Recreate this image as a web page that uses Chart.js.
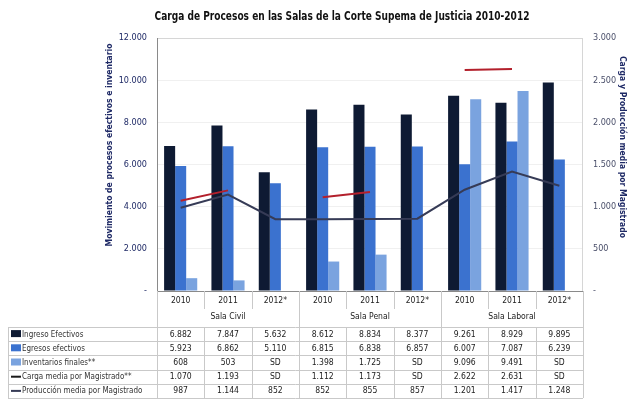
<!DOCTYPE html>
<html>
<head>
<meta charset="utf-8">
<script src="https://cdn.jsdelivr.net/npm/chart.js@4.4.0/dist/chart.umd.min.js"></script>
<style>
  html, body { margin: 0; padding: 0; background: #fff; }
  #wrap { width: 632px; height: 405px; position: relative; }
</style>
</head>
<body>
<div id="wrap"><canvas id="procChart"></canvas></div>
<script>
// data
const years = ['2010', '2011', '2012*', '2010', '2011', '2012*', '2010', '2011', '2012*'];
const salas = ['Sala Civil', 'Sala Penal', 'Sala Laboral'];
const ingresos = [6882, 7847, 5632, 8612, 8834, 8377, 9261, 8929, 9895];
const egresos = [5923, 6862, 5110, 6815, 6838, 6857, 6007, 7087, 6239];
const inventarios = [608, 503, null, 1398, 1725, null, 9096, 9491, null];
const carga = [1070, 1193, null, 1112, 1173, null, 2622, 2631, null];
const produccion = [987, 1144, 852, 852, 855, 857, 1201, 1417, 1248];
const leftTicks = [0, 2000, 4000, 6000, 8000, 10000, 12000];
const rightTicks = [0, 500, 1000, 1500, 2000, 2500, 3000];

const FONT = "'Liberation Sans Narrow', 'DejaVu Sans Condensed', 'Roboto', sans-serif";
const C_ING = '#0e1a33';
const C_EGR = '#3b72cf';
const C_INV = '#7aa3df';
const C_CARGA = '#b3202c';
const C_PROD = '#363b56';

function fmt(v) {
    if (v === null) return 'SD';
    if (v === 0) return '-';
    return String(v).replace(/\B(?=(\d{3})+(?!\d))/g, '.');
}

// draws text squeezed horizontally, the reference uses a narrow face
function narrowText(ctx, text, x, y, squeeze) {
    ctx.save();
    ctx.translate(x, y);
    ctx.scale(squeeze, 1);
    ctx.fillText(text, 0, 0);
    ctx.restore();
}

// table rows under the chart
const tableRows = [
    { label: 'Ingreso Efectivos', data: ingresos, color: C_ING, kind: 'bar' },
    { label: 'Egresos efectivos', data: egresos, color: C_EGR, kind: 'bar' },
    { label: 'Inventarios finales**', data: inventarios, color: C_INV, kind: 'bar' },
    { label: 'Carga media por Magistrado**', data: carga, color: '#1a1a1a', kind: 'line' },
    { label: 'Producción media por Magistrado', data: produccion, color: C_PROD, kind: 'line' }
];

const tablePlugin = {
    id: 'tablePlugin',
    beforeDatasetsDraw(chart) {
        const ctx = chart.ctx;
        const a = chart.chartArea;
        ctx.save();
        // light frame round the plot
        ctx.strokeStyle = '#d6d6d6';
        ctx.lineWidth = 1;
        ctx.beginPath();
        ctx.moveTo(a.left, a.top + 0.5);
        ctx.lineTo(a.right, a.top + 0.5);
        ctx.moveTo(a.right - 0.5, a.top);
        ctx.lineTo(a.right - 0.5, a.bottom);
        ctx.stroke();
        ctx.strokeStyle = '#8a8a8a';
        ctx.beginPath();
        ctx.moveTo(a.left + 0.5, a.top);
        ctx.lineTo(a.left + 0.5, a.bottom);
        ctx.stroke();
        ctx.restore();
    },
    afterDraw(chart) {
        const ctx = chart.ctx;
        const a = chart.chartArea;
        const xs = chart.scales.x;
        const n = years.length;
        const cw = (xs.right - xs.left) / n;
        const x0 = xs.left;
        const labelLeft = 8;
        const yearTop = a.bottom;
        const salaTop = 309;
        const rowTop = 327;
        const rowH = 14.2;
        const bottom = rowTop + rowH * tableRows.length;

        ctx.save();
        // title, squeezed to the reference width
        const title = 'Carga de Procesos en las Salas de la Corte Supema de Justicia 2010-2012';
        ctx.fillStyle = '#111';
        ctx.font = 'bold 12px ' + FONT;
        ctx.textAlign = 'center';
        ctx.textBaseline = 'middle';
        const tw = ctx.measureText(title).width;
        narrowText(ctx, title, 342, 17, Math.min(1, 375 / tw));

        // axis titles
        ctx.fillStyle = '#1f2a66';
        ctx.font = 'bold 9px ' + FONT;
        ctx.save();
        ctx.translate(110, 145);
        ctx.rotate(-Math.PI / 2);
        narrowText(ctx, 'Movimiento de procesos efectivos e inventario', 0, 0, 0.95);
        ctx.restore();
        ctx.save();
        ctx.translate(622, 147);
        ctx.rotate(Math.PI / 2);
        narrowText(ctx, 'Carga y Producción media por Magistrado', 0, 0, 0.95);
        ctx.restore();

        // x axis line
        ctx.strokeStyle = '#8a8a8a';
        ctx.lineWidth = 1;
        ctx.beginPath();
        ctx.moveTo(a.left, a.bottom + 0.5);
        ctx.lineTo(a.right, a.bottom + 0.5);
        ctx.stroke();

        // grid lines of the table
        ctx.strokeStyle = '#c9c9c9';
        ctx.beginPath();
        for (let i = 0; i <= n; i++) {
            const x = Math.round(x0 + i * cw) + 0.5;
            ctx.moveTo(x, yearTop);
            ctx.lineTo(x, i % 3 === 0 ? bottom : salaTop);
            if (i % 3 !== 0) {
                ctx.moveTo(x, rowTop);
                ctx.lineTo(x, bottom);
            }
        }
        ctx.moveTo(labelLeft + 0.5, rowTop);
        ctx.lineTo(labelLeft + 0.5, bottom);
        for (let r = 0; r <= tableRows.length; r++) {
            const y = Math.round(rowTop + r * rowH) + 0.5;
            ctx.moveTo(labelLeft, y);
            ctx.lineTo(x0 + n * cw, y);
        }
        ctx.stroke();

        // header texts
        ctx.fillStyle = '#222';
        ctx.font = '9.5px ' + FONT;
        ctx.textAlign = 'center';
        for (let i = 0; i < n; i++) {
            narrowText(ctx, years[i], x0 + (i + 0.5) * cw, yearTop + 10, 0.9);
        }
        for (let s = 0; s < salas.length; s++) {
            narrowText(ctx, salas[s], x0 + (s * 3 + 1.5) * cw, salaTop + 8, 0.9);
        }

        // data rows
        tableRows.forEach((row, r) => {
            const cy = rowTop + r * rowH + rowH / 2;
            ctx.fillStyle = row.color;
            if (row.kind === 'bar') {
                ctx.fillRect(labelLeft + 3, cy - 4, 10, 7);
            } else {
                ctx.fillRect(labelLeft + 3, cy - 1, 10, 2);
            }
            ctx.fillStyle = '#333';
            ctx.textAlign = 'left';
            narrowText(ctx, row.label, labelLeft + 14, cy, 0.84);
            ctx.textAlign = 'center';
            ctx.fillStyle = '#222';
            for (let i = 0; i < n; i++) {
                narrowText(ctx, fmt(row.data[i]), x0 + (i + 0.5) * cw, cy, 0.9);
            }
        });
        ctx.restore();
    }
};

const ctx = document.getElementById('procChart').getContext('2d');

new Chart(ctx, {
    type: 'bar',
    data: {
        labels: years,
        datasets: [
            {
                type: 'line',
                label: 'Carga media por Magistrado**',
                data: carga,
                yAxisID: 'y1',
                borderColor: C_CARGA,
                backgroundColor: C_CARGA,
                borderWidth: 2,
                pointRadius: 0,
                spanGaps: false,
                order: 1
            },
            {
                type: 'line',
                label: 'Producción media por Magistrado',
                data: produccion,
                yAxisID: 'y1',
                borderColor: C_PROD,
                backgroundColor: C_PROD,
                borderWidth: 2,
                pointRadius: 0,
                order: 1
            },
            {
                label: 'Ingreso Efectivos',
                data: ingresos,
                backgroundColor: C_ING,
                yAxisID: 'y',
                order: 2
            },
            {
                label: 'Egresos efectivos',
                data: egresos,
                backgroundColor: C_EGR,
                yAxisID: 'y',
                order: 2
            },
            {
                label: 'Inventarios finales**',
                data: inventarios,
                backgroundColor: C_INV,
                yAxisID: 'y',
                order: 2
            }
        ]
    },
    options: {
        responsive: true,
        maintainAspectRatio: false,
        animation: false,
        layout: {
            padding: { left: 0, right: 0, top: 38, bottom: 114 }
        },
        datasets: {
            bar: { categoryPercentage: 0.7, barPercentage: 1.0 }
        },
        plugins: {
            legend: { display: false },
            title: { display: false },
            tooltip: { enabled: false }
        },
        scales: {
            x: {
                display: false,
                offset: true
            },
            y: {
                position: 'left',
                min: 0,
                max: 12000,
                afterFit(scale) { scale.width = 157; },
                afterBuildTicks(scale) { scale.ticks = leftTicks.map(v => ({ value: v })); },
                border: { display: false },
                grid: { color: 'rgba(0,0,0,0.06)', drawTicks: false },
                ticks: {
                    padding: 10,
                    color: '#1f2a66',
                    font: { family: FONT, size: 9 },
                    callback: v => fmt(v)
                }
            },
            y1: {
                position: 'right',
                min: 0,
                max: 3000,
                afterFit(scale) { scale.width = 49; },
                afterBuildTicks(scale) { scale.ticks = rightTicks.map(v => ({ value: v })); },
                border: { display: false },
                grid: { drawOnChartArea: false, drawTicks: false },
                ticks: {
                    padding: 10,
                    color: '#4a4f6a',
                    font: { family: FONT, size: 9 },
                    callback: v => fmt(v)
                }
            }
        }
    },
    plugins: [tablePlugin]
});
</script>
</body>
</html>
